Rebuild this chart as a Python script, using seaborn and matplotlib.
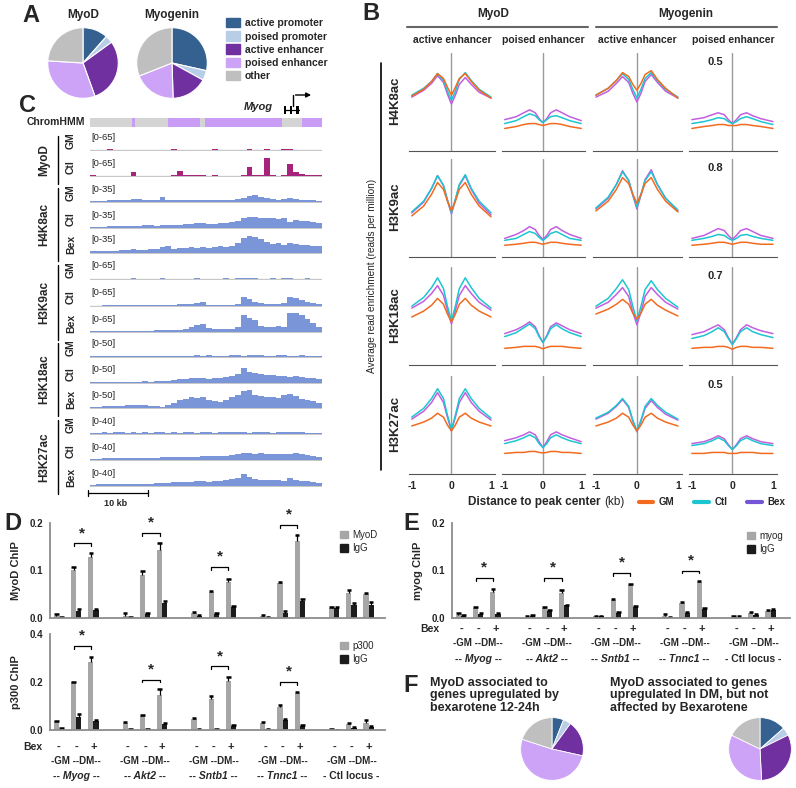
import numpy as np
import pandas as pd
import matplotlib
matplotlib.use("Agg")
import matplotlib.pyplot as plt
import seaborn as sns
from matplotlib.lines import Line2D
from matplotlib.patches import Patch, Rectangle
from matplotlib.transforms import blended_transform_factory

sns.set_style("white")
plt.rcParams['font.family'] = ['Liberation Sans', 'DejaVu Sans']
plt.rcParams['axes.unicode_minus'] = False

W, H = 796, 788

## Panel A / F pies (percent of peaks per ChromHMM state)
STATES = ['active promoter', 'poised promoter', 'active enhancer', 'poised enhancer', 'other']
PIE_COLORS = ['#34618f', '#b8cde6', '#7130a0', '#cda3f7', '#bfbfbf']
pie_myod = [11.5, 3.5, 29.5, 31.5, 24]
pie_myogenin = [28.5, 4.5, 16.5, 19.5, 31]
pie_bex_up = [6, 4, 18.5, 51.5, 20]
pie_dm_up = [13.5, 4.2, 31.5, 33, 17.8]

## Panel B profiles (fraction of row scale), cells: MyoD active, MyoD poised, Myogenin active, Myogenin poised
X_KB = [-1, -0.7, -0.5, -0.35, -0.2, -0.1, 0, 0.1, 0.2, 0.35, 0.5, 0.7, 1]
MARKS = ['H4K8ac', 'H3K9ac', 'H3K18ac', 'H3K27ac']
ROW_SCALE = [0.5, 0.8, 0.7, 0.5]
COLS = ['active enhancer', 'poised enhancer', 'active enhancer', 'poised enhancer']

h4k8ac_gm = [[.56, .63, .71, .79, .74, .65, .57, .65, .74, .79, .71, .62, .54],
             [.23, .25, .27, .28, .28, .27, .26, .27, .28, .28, .27, .25, .23],
             [.57, .64, .72, .80, .76, .68, .62, .69, .78, .82, .73, .64, .54],
             [.23, .25, .26, .27, .27, .26, .26, .26, .27, .27, .26, .25, .23]]
h4k8ac_ctl = [[.57, .64, .71, .79, .72, .61, .52, .61, .73, .80, .72, .63, .55],
              [.28, .31, .35, .38, .36, .32, .29, .32, .35, .36, .34, .31, .28],
              [.57, .64, .72, .79, .73, .63, .54, .63, .74, .80, .72, .63, .55],
              [.28, .30, .32, .34, .33, .30, .28, .30, .33, .35, .33, .30, .27]]
h4k8ac_bex = [[.55, .62, .69, .77, .70, .58, .48, .57, .68, .75, .68, .60, .54],
              [.32, .35, .39, .42, .39, .33, .29, .33, .39, .42, .39, .35, .31],
              [.55, .61, .69, .76, .70, .59, .50, .59, .71, .78, .70, .61, .54],
              [.32, .34, .37, .39, .37, .32, .28, .32, .37, .39, .36, .33, .30]]

h3k9ac_gm = [[.42, .52, .64, .76, .69, .57, .47, .57, .69, .76, .64, .52, .41],
             [.12, .13, .14, .15, .15, .14, .13, .14, .15, .15, .14, .13, .12],
             [.47, .57, .69, .81, .75, .64, .55, .64, .75, .81, .69, .57, .46],
             [.12, .13, .14, .15, .15, .14, .13, .14, .15, .15, .14, .13, .13]]
h3k9ac_ctl = [[.46, .57, .70, .83, .73, .58, .45, .59, .74, .84, .70, .57, .45],
              [.17, .19, .23, .26, .24, .20, .17, .20, .24, .26, .23, .19, .17],
              [.50, .61, .74, .87, .78, .64, .51, .64, .78, .87, .74, .60, .48],
              [.17, .19, .21, .23, .22, .19, .17, .19, .22, .23, .21, .19, .17]]
h3k9ac_bex = [[.45, .56, .70, .83, .73, .58, .44, .58, .73, .83, .69, .55, .43],
              [.19, .23, .27, .31, .28, .22, .18, .22, .28, .31, .27, .23, .19],
              [.49, .60, .74, .88, .78, .63, .49, .63, .79, .89, .74, .60, .47],
              [.19, .22, .26, .29, .27, .22, .18, .22, .27, .29, .26, .22, .19]]

h3k18ac_gm = [[.49, .55, .61, .68, .62, .52, .44, .52, .62, .68, .61, .55, .49],
              [.17, .18, .19, .19, .19, .18, .165, .18, .19, .19, .19, .18, .17],
              [.52, .57, .62, .67, .62, .53, .47, .53, .62, .67, .61, .56, .50],
              [.17, .18, .18, .19, .19, .18, .16, .18, .19, .19, .18, .18, .17]]
h3k18ac_ctl = [[.60, .69, .79, .89, .78, .60, .45, .60, .78, .89, .79, .68, .58],
               [.29, .33, .38, .42, .37, .29, .23, .29, .37, .41, .37, .33, .29],
               [.60, .68, .78, .87, .77, .60, .45, .60, .77, .86, .77, .68, .59],
               [.27, .30, .34, .38, .34, .27, .21, .27, .34, .38, .34, .31, .28]]
h3k18ac_bex = [[.58, .65, .73, .81, .71, .56, .42, .56, .71, .81, .73, .64, .56],
               [.32, .36, .40, .44, .39, .30, .23, .30, .39, .43, .40, .36, .32],
               [.58, .64, .72, .79, .70, .54, .41, .54, .70, .79, .72, .64, .57],
               [.31, .34, .38, .41, .36, .28, .21, .28, .36, .41, .38, .35, .32]]

h3k27ac_gm = [[.49, .53, .57, .62, .58, .50, .44, .50, .58, .62, .57, .53, .49],
              [.21, .22, .22, .23, .23, .22, .215, .22, .23, .23, .22, .22, .21],
              [.49, .53, .57, .62, .58, .50, .44, .50, .58, .62, .57, .53, .49],
              [.21, .21, .22, .22, .22, .21, .21, .21, .22, .22, .22, .21, .21]]
h3k27ac_ctl = [[.58, .67, .77, .87, .77, .60, .45, .60, .77, .87, .77, .67, .57],
               [.31, .34, .37, .40, .37, .31, .27, .31, .37, .40, .37, .34, .31],
               [.57, .63, .70, .77, .69, .55, .44, .55, .69, .77, .70, .63, .56],
               [.29, .31, .34, .37, .34, .29, .25, .29, .34, .37, .34, .31, .29]]
h3k27ac_bex = [[.56, .64, .73, .83, .73, .58, .44, .58, .73, .83, .73, .64, .55],
               [.34, .37, .40, .43, .40, .33, .27, .33, .40, .43, .40, .37, .33],
               [.56, .62, .69, .76, .68, .54, .43, .54, .67, .75, .68, .61, .55],
               [.31, .33, .36, .39, .36, .30, .25, .30, .36, .39, .36, .33, .31]]

## Panel C browser tracks (40 bins across the locus)
myod_gm_track = [0, 0, 0, 2, 0, 0, 0, 0, 0, 0, 0, 0, 0, 0, 2, 0, 0, 0, 0, 0, 0, 2, 0, 0, 0, 0, 0, 2, 0, 0, 2, 0, 0, 2, 2, 0, 0, 0, 0, 0]
myod_ctl_track = [2, 0, 0, 0, 0, 0, 1, 11, 0, 0, 0, 0, 0, 0, 2, 16, 3, 2, 3, 4, 0, 2, 0, 0, 0, 0, 3, 27, 3, 2, 57, 4, 0, 2, 38, 12, 5, 3, 2, 2]
h4k8ac_gm_track = [2, 2, 2, 3, 3, 4, 4, 5, 5, 4, 3, 4, 8, 4, 3, 4, 4, 3, 4, 4, 3, 4, 3, 4, 4, 5, 7, 10, 12, 8, 6, 5, 4, 5, 7, 5, 4, 3, 3, 2]
h4k8ac_ctl_track = [2, 2, 2, 3, 3, 3, 4, 4, 4, 5, 5, 4, 5, 5, 5, 5, 6, 7, 8, 9, 6, 7, 8, 8, 10, 12, 17, 18, 19, 17, 16, 17, 15, 16, 10, 13, 12, 11, 10, 9]
h4k8ac_bex_track = [3, 3, 4, 4, 4, 5, 5, 6, 5, 5, 6, 7, 10, 12, 7, 9, 9, 10, 9, 10, 9, 10, 11, 10, 12, 16, 25, 29, 27, 24, 18, 15, 16, 14, 17, 15, 14, 13, 12, 12]
h3k9ac_gm_track = [1, 1, 1, 1, 1, 1, 1, 2, 1, 1, 1, 1, 2, 1, 1, 1, 1, 1, 2, 1, 1, 1, 1, 2, 1, 2, 3, 2, 2, 1, 1, 2, 1, 2, 2, 1, 1, 2, 1, 1]
h3k9ac_ctl_track = [1, 1, 2, 2, 2, 2, 2, 2, 3, 3, 3, 3, 4, 4, 4, 5, 5, 6, 8, 11, 4, 3, 3, 3, 4, 7, 29, 22, 12, 8, 7, 6, 7, 10, 28, 25, 18, 13, 10, 6]
h3k9ac_bex_track = [2, 2, 2, 2, 3, 3, 3, 4, 4, 3, 4, 5, 5, 5, 6, 7, 10, 16, 22, 25, 12, 8, 8, 9, 10, 14, 52, 44, 36, 20, 16, 14, 18, 15, 58, 60, 52, 40, 28, 15]
h3k18ac_gm_track = [2, 2, 2, 3, 2, 3, 3, 2, 3, 3, 3, 3, 3, 3, 3, 3, 3, 3, 4, 3, 4, 3, 3, 3, 4, 4, 3, 4, 4, 4, 3, 3, 4, 4, 3, 3, 4, 3, 3, 2]
h3k18ac_ctl_track = [2, 2, 2, 2, 3, 3, 3, 3, 3, 4, 3, 4, 4, 5, 8, 9, 9, 11, 11, 12, 10, 11, 12, 14, 16, 22, 36, 25, 23, 21, 20, 18, 17, 16, 15, 17, 14, 13, 12, 10]
h3k18ac_bex_track = [3, 3, 4, 4, 5, 5, 7, 8, 7, 6, 5, 5, 3, 6, 12, 18, 22, 25, 24, 26, 20, 16, 15, 20, 25, 30, 40, 44, 30, 28, 27, 26, 24, 30, 33, 28, 22, 20, 17, 13]
h3k27ac_gm_track = [2, 2, 3, 2, 3, 3, 2, 3, 2, 3, 2, 3, 3, 2, 3, 2, 3, 3, 2, 3, 3, 2, 3, 3, 3, 3, 3, 2, 3, 3, 3, 2, 3, 3, 3, 3, 3, 2, 2, 2]
h3k27ac_ctl_track = [2, 2, 3, 3, 3, 3, 4, 4, 4, 4, 4, 4, 5, 5, 5, 6, 5, 6, 6, 7, 7, 7, 8, 8, 10, 12, 13, 14, 12, 13, 12, 11, 12, 11, 12, 13, 11, 10, 8, 6]
h3k27ac_bex_track = [2, 3, 3, 3, 4, 3, 4, 4, 4, 4, 4, 5, 5, 6, 7, 8, 8, 8, 9, 9, 8, 9, 10, 11, 14, 16, 23, 18, 14, 12, 12, 11, 12, 10, 16, 12, 10, 9, 8, 6]
chromhmm_start = [0, 7.2, 7.8, 13.5, 18.9, 19.8, 33.1, 36.5]
chromhmm_end = [7.2, 7.8, 13.5, 18.9, 19.8, 33.1, 36.5, 40]
chromhmm_state = ['other', 'poised enhancer', 'other', 'poised enhancer', 'other', 'poised enhancer', 'other', 'poised enhancer']

## Panels D/E ChIP-qPCR (GM, DM, DM+Bex per locus)
LOCI = ['Myog', 'Akt2', 'Sntb1', 'Tnnc1', 'Ctl locus']
CONDS = ['GM', 'DM', 'DMBex']
BEX_SIGN = ['-', '-', '+']
myod_chip = [0.005, 0.101, 0.128, 0.004, 0.091, 0.143, 0.010, 0.055, 0.075, 0.004, 0.073, 0.163, 0.021, 0.052, 0.051]
myod_chip_err = [0.003, 0.006, 0.008, 0.006, 0.008, 0.014, 0.003, 0.002, 0.008, 0.002, 0.002, 0.011, 0.002, 0.006, 0.002]
myod_igg = [0.002, 0.014, 0.016, 0.002, 0.009, 0.031, 0.005, 0.008, 0.024, 0.001, 0.011, 0.036, 0.021, 0.028, 0.028]
myod_igg_err = [0.001, 0.004, 0.004, 0.001, 0.002, 0.005, 0.001, 0.002, 0.002, 0.001, 0.003, 0.004, 0.002, 0.003, 0.006]
p300_chip = [0.036, 0.198, 0.285, 0.028, 0.060, 0.145, 0.045, 0.130, 0.205, 0.028, 0.095, 0.155, 0.002, 0.025, 0.030]
p300_chip_err = [0.003, 0.002, 0.018, 0.006, 0.002, 0.025, 0.003, 0.012, 0.017, 0.005, 0.010, 0.004, 0.001, 0.004, 0.012]
p300_igg = [0.006, 0.055, 0.037, 0.002, 0.002, 0.026, 0.002, 0.005, 0.018, 0.003, 0.040, 0.018, 0.001, 0.010, 0.014]
p300_igg_err = [0.002, 0.010, 0.003, 0.001, 0.001, 0.004, 0.001, 0.001, 0.002, 0.001, 0.005, 0.003, 0.001, 0.002, 0.004]
myog_chip = [0.006, 0.021, 0.055, 0.003, 0.021, 0.053, 0.004, 0.037, 0.070, 0.005, 0.031, 0.076, 0.003, 0.010, 0.015]
myog_chip_err = [0.004, 0.002, 0.007, 0.001, 0.002, 0.006, 0.001, 0.004, 0.002, 0.003, 0.002, 0.002, 0.001, 0.002, 0.002]
myog_igg = [0.004, 0.008, 0.009, 0.005, 0.015, 0.027, 0.004, 0.010, 0.023, 0.002, 0.011, 0.020, 0.003, 0.007, 0.016]
myog_igg_err = [0.002, 0.003, 0.002, 0.002, 0.002, 0.001, 0.001, 0.003, 0.003, 0.001, 0.002, 0.002, 0.001, 0.002, 0.002]
myod_bracket = [0.157, 0.179, 0.107, 0.196]
p300_bracket = [0.35, 0.21, 0.265, 0.20]
myog_bracket = [0.084, 0.084, 0.095, 0.10]

GM_C, CTL_C, BEX_C, BEX_LEG = '#f26b1f', '#1cc6cf', '#c45ee0', '#7455d6'
GRAY_BAR, BLACK_BAR = '#a6a6a6', '#1c1c1c'
TRACK_BLUE, TRACK_MAG = '#7b96d8', '#a8237c'

fig = plt.figure(figsize=(W / 100, H / 100), dpi=100)


def box(x0, y0, x1, y1):
    return [x0 / W, 1 - y1 / H, (x1 - x0) / W, (y1 - y0) / H]


def ftext(x, y, s, **kw):
    kw.setdefault('ha', 'center')
    kw.setdefault('va', 'center')
    fig.text(x / W, 1 - y / H, s, **kw)


def fline(x0, y0, x1, y1, **kw):
    fig.add_artist(Line2D([x0 / W, x1 / W], [1 - y0 / H, 1 - y1 / H], **kw))


for letter, (lx, ly) in zip('ABCDEF', [(31, 16), (371, 14), (27, 106), (13, 523), (411, 523), (411, 686)]):
    ftext(lx, ly, letter, fontsize=17, fontweight='bold')

# ---------------- A
for (cx, title, vals) in [(83, 'MyoD', pie_myod), (172, 'Myogenin', pie_myogenin)]:
    ax = fig.add_axes(box(cx - 36, 27, cx + 36, 99))
    ax.pie(vals, colors=PIE_COLORS, startangle=90, counterclock=False,
           wedgeprops=dict(edgecolor='white', linewidth=0.8))
    ax.set_xlim(-1.02, 1.02)
    ax.set_ylim(-1.02, 1.02)
    ftext(cx, 15, title, fontsize=8.5, fontweight='bold')
fig.legend([Patch(color=c) for c in PIE_COLORS], STATES, loc='upper left',
           bbox_to_anchor=(222 / W, 1 - 14 / H), frameon=False,
           prop=dict(size=7.5, weight='bold'), handlelength=1.3, handleheight=1.0,
           labelspacing=0.28, handletextpad=0.5, borderaxespad=0)

# ---------------- B
col_x = [(409, 495), (502, 585), (593, 682), (689, 777)]
row_bottom = [151, 257, 365, 474]
profiles = [(h4k8ac_gm, h4k8ac_ctl, h4k8ac_bex), (h3k9ac_gm, h3k9ac_ctl, h3k9ac_bex),
            (h3k18ac_gm, h3k18ac_ctl, h3k18ac_bex), (h3k27ac_gm, h3k27ac_ctl, h3k27ac_bex)]
for r in range(4):
    gm, ctl, bex = profiles[r]
    for c in range(4):
        x0, x1 = col_x[c]
        ax = fig.add_axes(box(x0, row_bottom[r] - 98, x1, row_bottom[r]))
        ax.axvline(0, color='#9a9a9a', lw=1.0, zorder=0)
        sc = ROW_SCALE[r]
        for vals, col in [(bex, BEX_C), (ctl, CTL_C), (gm, GM_C)]:
            sns.lineplot(x=X_KB, y=np.array(vals[c]) * sc, color=col, lw=1.1, ax=ax,
                         solid_joinstyle='round')
        ax.set_xlim(-1.07, 1.1)
        ax.set_ylim(0, sc)
        ax.set_yticks([])
        ax.set_xticks([-1, 0, 1])
        for s in ['top', 'right', 'left']:
            ax.spines[s].set_visible(False)
        ax.spines['bottom'].set_color('#555555')
        ax.tick_params(axis='x', direction='out', length=3, color='#555555', pad=2,
                       labelsize=7.5, labelbottom=(r == 3))
        if r == 3:
            for t in ax.get_xticklabels():
                t.set_fontweight('bold')
        if c == 3:
            ax.text(-0.42, 0.91, str(sc), transform=blended_transform_factory(ax.transData, ax.transAxes),
                    ha='center', va='center', fontsize=8, fontweight='bold')
    ftext(395, row_bottom[r] - 50, MARKS[r], rotation=90, fontsize=9.5, fontweight='bold')

ftext(493, 14, 'MyoD', fontsize=8.5, fontweight='bold')
ftext(686, 14, 'Myogenin', fontsize=8.5, fontweight='bold')
fline(407, 27, 588, 27, color='#666666', lw=1.5)
fline(596, 27, 777, 27, color='#666666', lw=1.5)
for (x0, x1), name in zip(col_x, COLS):
    ftext((x0 + x1) / 2, 40, name, fontsize=7.5, fontweight='bold')
fline(381, 63, 381, 470, color='black', lw=1.2)
ftext(372, 276, 'Average read enrichment (reads per million)', rotation=90, fontsize=7.2)
ftext(601, 502, 'Distance to peak center', ha='right', fontsize=8.5, fontweight='bold')
ftext(604, 502, '(kb)', ha='left', fontsize=8.5)
fig.legend([Line2D([], [], color=GM_C, lw=3), Line2D([], [], color=CTL_C, lw=3),
            Line2D([], [], color=BEX_LEG, lw=3)], ['GM', 'Ctl', 'Bex'],
           loc='center', bbox_to_anchor=(712 / W, 1 - 502 / H), ncol=3, frameon=False,
           prop=dict(size=7, weight='bold'), handlelength=1.5, columnspacing=2.0, handletextpad=0.6)

# ---------------- C
NBIN = 40
ax = fig.add_axes(box(90, 118, 322, 127))
for s0, s1, st in zip(chromhmm_start, chromhmm_end, chromhmm_state):
    ax.add_patch(Rectangle((s0, 0), s1 - s0, 1, color='#d4d4d4' if st == 'other' else '#c99cf5', lw=0))
ax.set_xlim(0, NBIN)
ax.set_ylim(0, 1)
ax.axis('off')
ftext(56, 122, 'ChromHMM', fontsize=7.5, fontweight='bold')

# Myog gene model
ax = fig.add_axes(box(90, 88, 322, 116))
ax.set_xlim(0, NBIN)
ax.set_ylim(0, 1)
ax.axis('off')
ax.plot([33.4, 36.1], [0.22, 0.22], color='black', lw=0.9)
for e0, e1 in [(33.4, 33.8), (34.5, 34.8), (35.5, 36.1)]:
    ax.add_patch(Rectangle((e0, 0.08), e1 - e0, 0.28, color='black', lw=0))
ax.plot([35.0, 35.0], [0.36, 0.75], color='black', lw=1.0)
ax.annotate('', xy=(38.6, 0.75), xytext=(34.95, 0.75),
            arrowprops=dict(arrowstyle='-|>', color='black', lw=1.0, mutation_scale=7))
ftext(258, 107, 'Myog', fontsize=8, fontweight='bold', style='italic')

tracks = [('MyoD', 'GM', myod_gm_track, 65, TRACK_MAG), ('MyoD', 'Ctl', myod_ctl_track, 65, TRACK_MAG),
          ('H4K8ac', 'GM', h4k8ac_gm_track, 35, TRACK_BLUE), ('H4K8ac', 'Ctl', h4k8ac_ctl_track, 35, TRACK_BLUE),
          ('H4K8ac', 'Bex', h4k8ac_bex_track, 35, TRACK_BLUE),
          ('H3K9ac', 'GM', h3k9ac_gm_track, 65, TRACK_BLUE), ('H3K9ac', 'Ctl', h3k9ac_ctl_track, 65, TRACK_BLUE),
          ('H3K9ac', 'Bex', h3k9ac_bex_track, 65, TRACK_BLUE),
          ('H3K18ac', 'GM', h3k18ac_gm_track, 50, TRACK_BLUE), ('H3K18ac', 'Ctl', h3k18ac_ctl_track, 50, TRACK_BLUE),
          ('H3K18ac', 'Bex', h3k18ac_bex_track, 50, TRACK_BLUE),
          ('H3K27ac', 'GM', h3k27ac_gm_track, 40, TRACK_BLUE), ('H3K27ac', 'Ctl', h3k27ac_ctl_track, 40, TRACK_BLUE),
          ('H3K27ac', 'Bex', h3k27ac_bex_track, 40, TRACK_BLUE)]
baselines = [150, 176, 202, 228, 253, 279, 306, 332, 357, 383, 408, 434, 460, 486]
edges = np.arange(NBIN + 1)
for (grp, sub, vals, vmax, col), b in zip(tracks, baselines):
    ax = fig.add_axes(box(90, b - 21, 322, b + 1))
    ax.fill_between(edges, list(vals) + [vals[-1]], step='post', color=col, lw=0)
    ax.axhline(0, color='#c8c8c8', lw=1.0, zorder=0)
    ax.set_xlim(0, NBIN)
    ax.set_ylim(-vmax * 0.05, vmax * 1.0)
    ax.axis('off')
    ftext(91, b - 13, f'[0-{vmax}]', ha='left', fontsize=6.8)
    ftext(71, b - 9, sub, rotation=90, fontsize=7.5, fontweight='bold')
for grp in ['MyoD', 'H4K8ac', 'H3K9ac', 'H3K18ac', 'H3K27ac']:
    bs = [b for (g, *_), b in zip(tracks, baselines) if g == grp]
    fline(58, bs[0] - 14, 58, bs[-1] + 8, color='black', lw=1.0)
    ftext(44, (bs[0] + bs[-1]) / 2 - 3, grp, rotation=90, fontsize=8.5, fontweight='bold')
fline(88, 493, 148, 493, color='black', lw=0.9)
fline(88, 490, 88, 496, color='black', lw=0.9)
fline(148, 490, 148, 496, color='black', lw=0.9)
ftext(116, 504, '10 kb', fontsize=6.5, fontweight='bold')


# ---------------- D / E bars
def bar_panel(rect, chip, chip_err, igg, igg_err, ymax, yticks, chip_name, brackets, leg_xy, x_first):
    ax = fig.add_axes(box(*rect))
    rows = []
    order = []
    for i, locus in enumerate(LOCI):
        for j, cond in enumerate(CONDS):
            k = i * 3 + j
            rows.append((f'{locus}|{cond}', 'ChIP', chip[k]))
            rows.append((f'{locus}|{cond}', 'IgG', igg[k]))
            order.append(f'{locus}|{cond}')
        if i < len(LOCI) - 1:
            order.append(f'gap{i}')
    df = pd.DataFrame(rows, columns=['slot', 'ab', 'value'])
    sns.barplot(data=df, x='slot', y='value', hue='ab', order=order, hue_order=['ChIP', 'IgG'],
                palette=[GRAY_BAR, BLACK_BAR], width=0.6, errorbar=None, legend=False,
                saturation=1, linewidth=0, ax=ax)
    for i in range(len(LOCI)):
        for j in range(3):
            k = i * 3 + j
            pos = i * 4 + j
            for xo, m, e in [(-0.15, chip[k], chip_err[k]), (0.15, igg[k], igg_err[k])]:
                ax.vlines(pos + xo, m, m + e, color='black', lw=0.9)
                ax.hlines(m + e, pos + xo - 0.13, pos + xo + 0.13, color='black', lw=1.8)
        if i < len(brackets):
            h = brackets[i]
            d = ymax * 0.03
            xa, xb = i * 4 + 1 - 0.15, i * 4 + 2 - 0.15
            ax.plot([xa, xa, xb, xb], [h - d, h, h, h - d], color='black', lw=0.9)
            ax.text((xa + xb) / 2, h + ymax * 0.035, '*', ha='center', va='bottom',
                    fontsize=11, fontweight='bold')
    x_lim_r = (rect[2] - rect[0] - x_first) / 17.2
    ax.set_xlim(-x_first / 17.2, x_lim_r)
    ax.set_ylim(0, ymax)
    ax.set_yticks(yticks)
    ax.set_yticklabels([f'{t:.1f}' for t in yticks], fontsize=7, fontweight='bold')
    ax.set_xticks([])
    ax.set_xlabel('')
    ax.set_ylabel(f'{chip_name} ChIP', fontsize=8, fontweight='bold', labelpad=6)
    for s in ['top', 'right']:
        ax.spines[s].set_visible(False)
    for s in ['left', 'bottom']:
        ax.spines[s].set_color('#8c8c8c')
        ax.spines[s].set_linewidth(1.3)
    ax.tick_params(axis='y', length=3, color='#8c8c8c', pad=2)
    fig.legend([Patch(color=GRAY_BAR), Patch(color=BLACK_BAR)], [chip_name, 'IgG'], loc='upper left',
               bbox_to_anchor=(leg_xy[0] / W, 1 - leg_xy[1] / H), frameon=False, prop=dict(size=7),
               handlelength=0.8, handleheight=0.8, labelspacing=0.35, handletextpad=0.5, borderaxespad=0)
    return ax


def under_labels(ax, bex_x, rows_y):
    tr = blended_transform_factory(ax.transData, fig.transFigure)
    ftext(bex_x, rows_y[0], 'Bex', fontsize=7.5, fontweight='bold')
    for i, locus in enumerate(LOCI):
        for j in range(3):
            ax.text(i * 4 + j, 1 - rows_y[0] / H, BEX_SIGN[j], transform=tr, ha='center', va='center',
                    fontsize=8, fontweight='bold')
        ax.text(i * 4 + 1, 1 - rows_y[1] / H, '-GM --DM--', transform=tr, ha='center', va='center',
                fontsize=7, fontweight='bold')
        lab = f'- {locus} -' if locus == 'Ctl locus' else f'-- {locus} --'
        ax.text(i * 4 + 1, 1 - rows_y[2] / H, lab, transform=tr, ha='center', va='center',
                fontsize=7.5, fontweight='bold', style='normal' if locus == 'Ctl locus' else 'italic')


bar_panel((50, 523, 385, 618), myod_chip, myod_chip_err, myod_igg, myod_igg_err, 0.2, [0.0, 0.1, 0.2],
          'MyoD', myod_bracket, (336, 526), 9)
axp = bar_panel((50, 634, 385, 730), p300_chip, p300_chip_err, p300_igg, p300_igg_err, 0.4, [0.0, 0.2, 0.4],
                'p300', p300_bracket, (336, 637), 9)
under_labels(axp, 33, [747, 761, 776])
axe = bar_panel((452, 523, 790, 618), myog_chip, myog_chip_err, myog_igg, myog_igg_err, 0.2, [0.0, 0.1, 0.2],
                'myog', myog_bracket, (743, 527), 9)
under_labels(axe, 430, [629, 643, 659])

# ---------------- F
ftext(430, 677, 'MyoD associated to\ngenes upregulated by\nbexarotene 12-24h', ha='left', va='top',
      fontsize=9, fontweight='bold', linespacing=1.05)
ftext(610, 677, 'MyoD associated to genes\nupregulated In DM, but not\naffected by Bexarotene', ha='left',
      va='top', fontsize=9, fontweight='bold', linespacing=1.05)
for cx, vals in [(552, pie_bex_up), (760, pie_dm_up)]:
    ax = fig.add_axes(box(cx - 32, 717, cx + 32, 781))
    ax.pie(vals, colors=PIE_COLORS, startangle=90, counterclock=False,
           wedgeprops=dict(edgecolor='white', linewidth=0.6))
    ax.set_xlim(-1.02, 1.02)
    ax.set_ylim(-1.02, 1.02)

fig.savefig('out.png', dpi=100)
